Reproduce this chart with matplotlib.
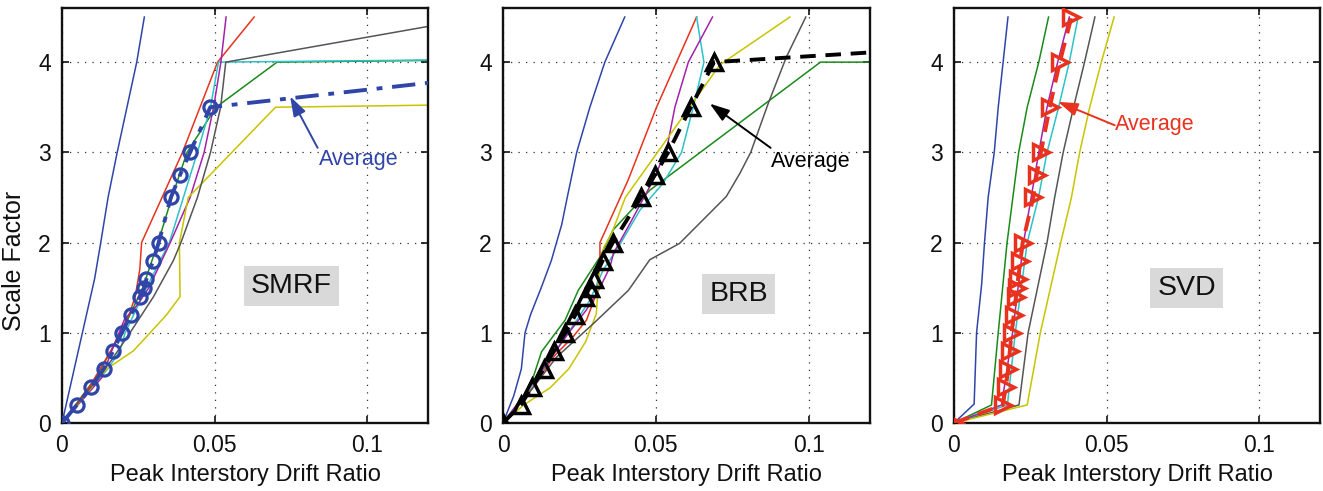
import matplotlib
matplotlib.use('Agg')
import matplotlib.pyplot as plt

# ---------------- data ----------------
xlabel_text = 'Peak Interstory Drift Ratio'
ylabel_text = 'Scale Factor'
panel_names = ['SMRF', 'BRB', 'SVD']
x_ticks = [0, 0.05, 0.1]
x_tick_labels = ['0', '0.05', '0.1']
y_ticks = [0, 1, 2, 3, 4]
y_tick_labels = ['0', '1', '2', '3', '4']

# SMRF records
smrf_blue_x = [0, 0.0107, 0.0127, 0.0151, 0.0181, 0.0245, 0.027]
smrf_blue_y = [0, 1.6, 2.0, 2.5, 3.0, 4.0, 4.5]
smrf_green_x = [0, 0.011, 0.0195, 0.0265, 0.0315, 0.036, 0.041, 0.0505, 0.0705, 0.2]
smrf_green_y = [0, 0.5, 1.0, 1.5, 2.0, 2.5, 3.0, 3.5, 4.0, 4.05]
smrf_red_x = [0, 0.009, 0.016, 0.022, 0.024, 0.0255, 0.0261, 0.0395, 0.051, 0.063]
smrf_red_y = [0, 0.4, 0.8, 1.2, 1.4, 1.7, 2.0, 3.0, 4.0, 4.5]
smrf_cyan_x = [0, 0.015, 0.019, 0.0207, 0.0277, 0.0352, 0.0398, 0.0444, 0.0487, 0.0513, 0.2]
smrf_cyan_y = [0, 0.6, 0.8, 1.0, 1.5, 2.0, 2.5, 3.0, 3.5, 4.0, 4.05]
smrf_magenta_x = [0, 0.013, 0.0163, 0.0205, 0.0245, 0.0285, 0.0355, 0.042, 0.0466, 0.0497, 0.0521, 0.0538]
smrf_magenta_y = [0, 0.5, 0.8, 1.15, 1.3, 1.5, 2.0, 2.5, 3.0, 3.5, 4.0, 4.5]
smrf_yellow_x = [0, 0.0147, 0.0234, 0.0289, 0.0343, 0.0387, 0.0385, 0.0414, 0.07, 0.2]
smrf_yellow_y = [0, 0.6, 0.8, 1.0, 1.2, 1.4, 2.0, 2.5, 3.5, 3.56]
smrf_gray_x = [0, 0.0095, 0.0163, 0.0223, 0.030, 0.0365, 0.039, 0.0444, 0.0487, 0.052, 0.0537, 0.1375]
smrf_gray_y = [0, 0.4, 0.7, 1.0, 1.4, 1.8, 2.0, 2.5, 3.0, 3.5, 4.0, 4.5]
smrf_avg_x = [0, 0.0049, 0.0096, 0.0137, 0.0168, 0.0196, 0.0226, 0.0255, 0.027, 0.0277,
              0.0299, 0.0317, 0.0357, 0.0387, 0.042, 0.0486, 0.181]
smrf_avg_y = [0, 0.2, 0.4, 0.6, 0.8, 1.0, 1.2, 1.4, 1.5, 1.6, 1.8, 2.0, 2.5, 2.75, 3.0, 3.5, 4.0]

# BRB records
brb_blue_x = [0, 0.0035, 0.006, 0.0072, 0.009, 0.0125, 0.0158, 0.0192, 0.021, 0.0241, 0.0284, 0.0333, 0.0398]
brb_blue_y = [0, 0.3, 0.6, 1.0, 1.2, 1.5, 1.8, 2.2, 2.5, 3.0, 3.5, 4.0, 4.5]
brb_green_x = [0, 0.006, 0.0099, 0.0126, 0.0203, 0.0246, 0.0317, 0.036, 0.048, 0.1038, 0.2]
brb_green_y = [0, 0.25, 0.51, 0.79, 1.14, 1.47, 1.84, 2.14, 2.58, 4.0, 4.0]
brb_red_x = [0, 0.0099, 0.0164, 0.023, 0.0273, 0.0306, 0.0317, 0.0317, 0.041, 0.0502, 0.0633]
brb_red_y = [0, 0.4, 0.73, 0.96, 1.14, 1.44, 1.86, 2.0, 2.7, 3.5, 4.5]
brb_cyan_x = [0, 0.011, 0.0175, 0.0241, 0.0284, 0.0328, 0.0372, 0.0448, 0.0524, 0.0584, 0.0622, 0.0657, 0.0633]
brb_cyan_y = [0, 0.48, 0.81, 1.14, 1.36, 1.7, 1.92, 2.36, 2.66, 3.0, 3.5, 4.0, 4.5]
brb_magenta_x = [0, 0.011, 0.0215, 0.0272, 0.0317, 0.035, 0.0361, 0.0415, 0.0491, 0.0535, 0.0562, 0.0606, 0.0685]
brb_magenta_y = [0, 0.5, 1.0, 1.25, 1.5, 1.73, 1.88, 2.21, 2.69, 3.03, 3.5, 4.0, 4.5]
brb_yellow_x = [0, 0.0068, 0.0154, 0.0215, 0.027, 0.0305, 0.0317, 0.033, 0.0355, 0.040, 0.0709, 0.0938]
brb_yellow_y = [0, 0.2, 0.39, 0.6, 0.9, 1.21, 1.78, 1.95, 2.1, 2.5, 3.97, 4.5]
brb_gray_x = [0, 0.0066, 0.0175, 0.0295, 0.041, 0.048, 0.0577, 0.073, 0.0775, 0.081, 0.0867, 0.0927, 0.099]
brb_gray_y = [0, 0.25, 0.73, 1.1, 1.47, 1.81, 1.99, 2.51, 2.77, 3.0, 3.54, 4.06, 4.5]
brb_avg_x = [0, 0.0058, 0.0095, 0.0133, 0.0166, 0.0204, 0.0237, 0.0268, 0.0283, 0.0297,
             0.0326, 0.0359, 0.0451, 0.0497, 0.054, 0.0614, 0.069, 0.307]
brb_avg_y = [0, 0.2, 0.4, 0.6, 0.8, 1.0, 1.2, 1.4, 1.5, 1.6, 1.8, 2.0, 2.5, 2.75, 3.0, 3.5, 4.0, 4.5]

# SVD records
svd_blue_x = [0, 0.0066, 0.0074, 0.0091, 0.010, 0.0112, 0.0132, 0.0145, 0.0161, 0.0177]
svd_blue_y = [0, 0.21, 1.0, 1.55, 2.0, 2.5, 3.0, 3.5, 4.0, 4.5]
svd_green_x = [0, 0.0123, 0.0145, 0.0174, 0.0193, 0.0212, 0.024, 0.0278, 0.031]
svd_green_y = [0, 0.2, 1.0, 2.0, 2.5, 3.0, 3.5, 4.0, 4.5]
svd_magenta_x = [0, 0.0156, 0.0192, 0.0228, 0.0278, 0.0305, 0.034, 0.0378]
svd_magenta_y = [0, 0.2, 1.0, 2.0, 3.0, 3.5, 4.0, 4.5]
svd_cyan_x = [0, 0.0175, 0.0201, 0.024, 0.0277, 0.0305, 0.0343, 0.0378, 0.0407]
svd_cyan_y = [0, 0.2, 1.0, 2.0, 2.5, 3.0, 3.5, 4.0, 4.5]
svd_gray_x = [0, 0.0213, 0.0243, 0.0305, 0.033, 0.0358, 0.0392, 0.0428, 0.0462]
svd_gray_y = [0, 0.2, 1.0, 2.0, 2.5, 3.0, 3.5, 4.0, 4.5]
svd_yellow_x = [0, 0.024, 0.0283, 0.035, 0.0385, 0.0412, 0.0445, 0.0483, 0.0525]
svd_yellow_y = [0, 0.2, 1.0, 2.0, 2.5, 3.0, 3.5, 4.0, 4.5]
svd_avg_x = [0, 0.016, 0.017, 0.0178, 0.0183, 0.0189, 0.0196, 0.0203, 0.0207, 0.021,
             0.0218, 0.0225, 0.026, 0.0271, 0.0285, 0.0314, 0.0347, 0.0385]
svd_avg_y = [0, 0.2, 0.4, 0.6, 0.8, 1.0, 1.2, 1.4, 1.5, 1.6, 1.8, 2.0, 2.5, 2.75, 3.0, 3.5, 4.0, 4.5]

# ---------------- style ----------------
plt.rcParams['font.family'] = ['Liberation Sans', 'DejaVu Sans']
C_BLUE = '#2f45a8'
C_GREEN = '#1a8a1a'
C_RED = '#e8321e'
C_CYAN = '#2cc2c8'
C_MAG = '#a322aa'
C_YEL = '#c8c400'
C_GRAY = '#555555'
C_TXT = '#111111'
FS_TICK = 16.5
FS_LABEL = 17
FS_ANN = 15.5

W, H = 1323, 491
fig = plt.figure(figsize=(W / 100, H / 100), dpi=100)

def make_axes(left_px, right_px):
    top_px, bottom_px = 8, 423
    return fig.add_axes([left_px / W, (H - bottom_px) / H,
                         (right_px - left_px) / W, (bottom_px - top_px) / H])

ax1 = make_axes(62, 428)
ax2 = make_axes(503, 870)
ax3 = make_axes(954, 1320)

panels = [
    (ax1, [(smrf_blue_x, smrf_blue_y, C_BLUE), (smrf_green_x, smrf_green_y, C_GREEN),
           (smrf_red_x, smrf_red_y, C_RED), (smrf_cyan_x, smrf_cyan_y, C_CYAN),
           (smrf_magenta_x, smrf_magenta_y, C_MAG), (smrf_yellow_x, smrf_yellow_y, C_YEL),
           (smrf_gray_x, smrf_gray_y, C_GRAY)]),
    (ax2, [(brb_blue_x, brb_blue_y, C_BLUE), (brb_green_x, brb_green_y, C_GREEN),
           (brb_red_x, brb_red_y, C_RED), (brb_cyan_x, brb_cyan_y, C_CYAN),
           (brb_magenta_x, brb_magenta_y, C_MAG), (brb_yellow_x, brb_yellow_y, C_YEL),
           (brb_gray_x, brb_gray_y, C_GRAY)]),
    (ax3, [(svd_blue_x, svd_blue_y, C_BLUE), (svd_green_x, svd_green_y, C_GREEN),
           (svd_cyan_x, svd_cyan_y, C_CYAN), (svd_magenta_x, svd_magenta_y, C_MAG),
           (svd_gray_x, svd_gray_y, C_GRAY), (svd_yellow_x, svd_yellow_y, C_YEL)]),
]

for ax, recs in panels:
    for xs, ys, c in recs:
        ax.plot(xs, ys, color=c, lw=1.1, zorder=2)

# averages
ax1.plot(smrf_avg_x, smrf_avg_y, color=C_BLUE, lw=2.8, ls=(0, (6, 2.5, 1.5, 2.5)),
         marker='o', ms=9.5, mfc='none', mec=C_BLUE, mew=2.3, zorder=3)
ax2.plot(brb_avg_x, brb_avg_y, color='black', lw=2.8, ls=(0, (4, 2.5)),
         marker='^', ms=11, mfc='none', mec='black', mew=2.5, zorder=3)
ax3.plot(svd_avg_x, svd_avg_y, color=C_RED, lw=2.8, ls=(0, (4, 2.5)),
         marker='>', ms=11, mfc='none', mec=C_RED, mew=2.5, zorder=3)

# annotations
arrow_kw = dict(arrowstyle='-|>,head_length=1.2,head_width=0.4', lw=1.4,
                mutation_scale=10, shrinkA=0, shrinkB=0)
ax1.annotate('', xy=(0.0748, 3.62), xytext=(0.0838, 3.05),
             arrowprops=dict(color=C_BLUE, **arrow_kw), zorder=4)
ax1.text(0.0842, 2.92, 'Average', color=C_BLUE, fontsize=FS_ANN, ha='left', va='center')
ax2.annotate('', xy=(0.0676, 3.54), xytext=(0.0875, 3.05),
             arrowprops=dict(color='black', **arrow_kw), zorder=4)
ax2.text(0.0876, 2.9, 'Average', color='black', fontsize=FS_ANN, ha='left', va='center')
ax3.annotate('', xy=(0.0341, 3.56), xytext=(0.0527, 3.3),
             arrowprops=dict(color=C_RED, **arrow_kw), zorder=4)
ax3.text(0.0528, 3.31, 'Average', color=C_RED, fontsize=FS_ANN, ha='left', va='center')

box_pos = [(0.0752, 1.52), (0.0771, 1.43), (0.0763, 1.50)]
for ax, name, (bx, by) in zip([ax1, ax2, ax3], panel_names, box_pos):
    ax.text(bx, by, name, fontsize=20.5, ha='center', va='center', color=C_TXT,
            bbox=dict(boxstyle='square,pad=0.25', fc='#d9d9d9', ec='none'), zorder=5)

for ax in [ax1, ax2, ax3]:
    ax.set_xlim(0, 0.12)
    ax.set_ylim(0, 4.6)
    ax.set_xticks(x_ticks)
    ax.set_xticklabels(x_tick_labels)
    ax.set_yticks(y_ticks)
    ax.set_yticklabels(y_tick_labels)
    ax.tick_params(direction='in', length=5, width=1.2, top=True, right=True,
                   labelsize=FS_TICK, pad=8, colors=C_TXT)
    ax.grid(True, linestyle=(0, (1, 5)), color='#333333', lw=0.9)
    for s in ax.spines.values():
        s.set_linewidth(1.7)
        s.set_color(C_TXT)
    ax.set_xlabel(xlabel_text, fontsize=FS_LABEL, color=C_TXT, labelpad=5)

ax1.set_ylabel(ylabel_text, fontsize=18, color=C_TXT)
ax1.yaxis.set_label_coords(-0.097, 0.39)

fig.savefig('out.png', dpi=100)
